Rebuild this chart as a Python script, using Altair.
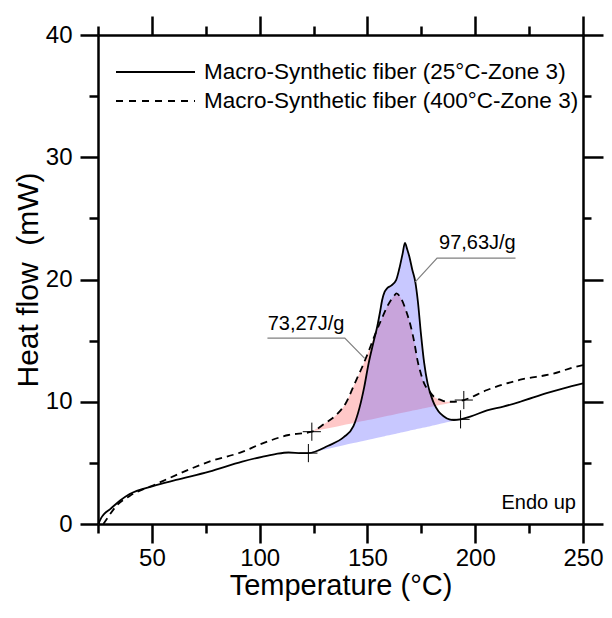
import altair as alt
import pandas as pd
import numpy as np

# ---------------- data ----------------
series_names = ["Macro-Synthetic fiber (25°C-Zone 3)", "Macro-Synthetic fiber (400°C-Zone 3)"]

temp_solid = [25.2, 26.5, 28.0, 30.5, 35.1, 39.7, 50.5, 61.2, 76.6, 91.9, 101.1, 107.3, 113.4, 119.6,
              122.6, 131.8, 139.0, 143.5, 146.3, 148.5, 150.5, 152.7, 154.6, 155.8, 156.8, 158.0,
              159.2, 161.0, 163.3, 164.8, 166.3, 167.4, 168.4, 169.4, 170.8, 172.2, 173.4, 174.8,
              176.3, 177.9, 179.5, 181.0, 183.0, 185.5, 188.0, 190.1, 193.2, 198.0, 205.5, 213.0,
              220.9, 233.1, 241.0, 250.0]
hf_solid = [0.0, 0.5, 0.85, 1.2, 1.9, 2.45, 3.1, 3.6, 4.28, 5.1, 5.5, 5.72, 5.85, 5.8,
            5.8, 6.4, 7.1, 8.0, 9.5, 11.2, 13.1, 14.8, 16.2, 17.3, 18.3, 19.0,
            19.3, 19.5, 19.95, 20.9, 22.1, 23.0, 22.5, 21.9, 20.8, 19.8, 18.2, 15.6,
            13.2, 11.5, 10.5, 9.8, 9.2, 8.8, 8.55, 8.5, 8.56, 8.8, 9.3, 9.6,
            10.0, 10.7, 11.1, 11.5]

temp_dashed = [27.5, 29.8, 33.6, 39.7, 52.0, 61.2, 76.6, 91.9, 100.0, 113.4, 124.2, 130.0, 136.0,
               140.0, 144.1, 147.2, 150.2, 153.3, 156.4, 159.5, 162.5, 163.4, 165.6, 168.0, 170.2,
               171.8, 173.2, 174.8, 176.3, 178.5, 180.9, 184.0, 187.1, 190.5, 194.7, 205.5, 220.9,
               236.2, 245.4, 250.0]
hf_dashed = [0.0, 0.6, 1.5, 2.3, 3.27, 4.0, 5.1, 5.9, 6.5, 7.28, 7.55, 8.2, 9.0,
             9.9, 11.5, 12.7, 13.96, 15.4, 16.7, 17.9, 18.7, 18.86, 18.45, 17.4, 16.1,
             14.8, 13.4, 12.3, 11.5, 10.9, 10.4, 10.15, 10.0, 10.0, 10.14, 10.96, 11.8,
             12.3, 12.8, 13.0]

# integration limits (the "+" markers)
limit_temp_solid = [122.6, 193.2]
limit_hf_solid = [5.8, 8.56]
limit_temp_dashed = [124.2, 194.7]
limit_hf_dashed = [7.55, 10.14]

# enthalpy annotations
ann_labels = ["97,63J/g", "73,27J/g"]
ann_text_temp = [201.0, 121.5]
ann_text_hf = [22.46, 15.86]
ann_line_temp = [[218.7, 182.3, 172.2], [103.6, 139.5, 148.7]]
ann_line_hf = [[21.75, 21.75, 19.8], [15.2, 15.2, 13.55]]

x_ticks = [25, 50, 75, 100, 125, 150, 175, 200, 225, 250]
y_ticks = [0, 5, 10, 15, 20, 25, 30, 35, 40]

FONT = "Liberation Sans"

# ---------------- tables ----------------
solid = pd.DataFrame({"T": temp_solid, "HF": hf_solid})
dashed = pd.DataFrame({"T": temp_dashed, "HF": hf_dashed})


def peak_area(df, lt, lh):
    sub = df[(df["T"] >= lt[0]) & (df["T"] <= lt[1])].copy()
    sub["base"] = lh[0] + (sub["T"] - lt[0]) * (lh[1] - lh[0]) / (lt[1] - lt[0])
    return sub


area_solid = peak_area(solid, limit_temp_solid, limit_hf_solid)
area_dashed = peak_area(dashed, limit_temp_dashed, limit_hf_dashed)

markers = pd.DataFrame({"T": limit_temp_solid + limit_temp_dashed,
                        "HF": limit_hf_solid + limit_hf_dashed})

ann_text = pd.DataFrame({"T": ann_text_temp, "HF": ann_text_hf, "label": ann_labels})
rows = []
for k, lab in enumerate(ann_labels):
    for j, (t, h) in enumerate(zip(ann_line_temp[k], ann_line_hf[k])):
        rows.append({"ann": lab, "idx": j, "T": t, "HF": h})
ann_lines = pd.DataFrame(rows)

xs = alt.Scale(domain=[25, 250], nice=False, zero=False)
ys = alt.Scale(domain=[0, 40], nice=False, zero=False)

common_axis = dict(
    domainColor="black", domainWidth=2.5, tickColor="black", tickWidth=2.5,
    labelColor="black", titleColor="black", labelFont=FONT, titleFont=FONT,
    titleFontWeight="normal", grid=False, labelOverlap=False, labelFlush=False,
)

bottom_axis = alt.Axis(
    orient="bottom", values=x_ticks, title="Temperature (°C)",
    labelExpr="datum.value % 50 === 0 ? datum.label : ''",
    tickSize={"condition": {"test": "datum.value % 50 === 0", "value": 19}, "value": 9},
    labelFontSize=24, titleFontSize=29, labelPadding=3, titlePadding=1, **common_axis)
left_axis = alt.Axis(
    orient="left", values=y_ticks, title="Heat flow\u00a0\u00a0(mW)",
    labelExpr="datum.value % 10 === 0 ? datum.label : ''",
    tickSize={"condition": {"test": "datum.value % 10 === 0", "value": 18}, "value": 9},
    labelFontSize=24, titleFontSize=30, labelPadding=8, titlePadding=2, **common_axis)
top_axis = alt.Axis(
    orient="top", values=x_ticks, title="", labels=False,
    tickSize={"condition": {"test": "datum.value % 50 === 0", "value": 19}, "value": 9},
    **common_axis)
right_axis = alt.Axis(
    orient="right", values=y_ticks, title="", labels=False,
    tickSize={"condition": {"test": "datum.value % 10 === 0", "value": 20}, "value": 8},
    **common_axis)


def xe(axis=None):
    return alt.X("T:Q", scale=xs, axis=axis)


def ye(axis=None, field="HF"):
    return alt.Y(f"{field}:Q", scale=ys, axis=axis)


red_area = alt.Chart(area_dashed).mark_area(color="#ff6060", opacity=0.35, interpolate="monotone").encode(
    x=xe(), y=ye(), y2="base:Q")
blue_area = alt.Chart(area_solid).mark_area(color="#6060ff", opacity=0.35, interpolate="monotone").encode(
    x=xe(), y=ye(), y2="base:Q")

solid_line = alt.Chart(solid).mark_line(color="black", strokeWidth=1.8, interpolate="monotone").encode(
    x=xe(bottom_axis), y=ye(left_axis))
dashed_line = alt.Chart(dashed).mark_line(color="black", strokeWidth=1.8, strokeDash=[7, 5],
                                          interpolate="monotone").encode(
    x=xe(top_axis), y=ye(right_axis))

marks_pts = alt.Chart(markers).mark_point(shape="M-1,0L1,0M0,-1L0,1", size=330, filled=False,
                                          color="black", strokeWidth=1, opacity=1).encode(
    x=xe(), y=ye())

leaders = alt.Chart(ann_lines).mark_line(color="#808080", strokeWidth=1.2).encode(
    x=xe(), y=ye(), detail="ann:N", order="idx:Q")
ann_txt = alt.Chart(ann_text).mark_text(font=FONT, fontSize=20, color="black", align="center",
                                        baseline="alphabetic").encode(
    x=xe(), y=ye(), text="label:N")

legend_layers = []
for i, name in enumerate(series_names):
    ldf = pd.DataFrame({"name": [name]})
    ly = 37 + 29 * i
    rule = alt.Chart(ldf).mark_rule(color="black", strokeWidth=1.8,
                                    strokeDash=[1, 0] if i == 0 else [7, 6]).encode(
        x=alt.value(18), x2=alt.value(97), y=alt.value(ly))
    txt = alt.Chart(ldf).mark_text(font=FONT, fontSize=22.5, color="black", align="left",
                                   baseline="middle").encode(
        x=alt.value(106), y=alt.value(ly), text="name:N")
    legend_layers += [rule, txt]

endo = alt.Chart(pd.DataFrame({"t": ["Endo up"]})).mark_text(
    font=FONT, fontSize=20, color="black", align="right", baseline="middle").encode(
    x=alt.value(478), y=alt.value(468), text="t:N")

chart = alt.layer(
    red_area, blue_area, solid_line, dashed_line, marks_pts, leaders, ann_txt, *legend_layers, endo
).resolve_axis(x="independent", y="independent").properties(
    width=485, height=489,
    autosize=alt.AutoSizeParams(type="none"),
    padding={"left": 90, "top": 27, "right": 21, "bottom": 80},
    background="white",
).configure_view(stroke=None)

chart.save("out.html", embed_options={"renderer": "svg", "actions": False})
